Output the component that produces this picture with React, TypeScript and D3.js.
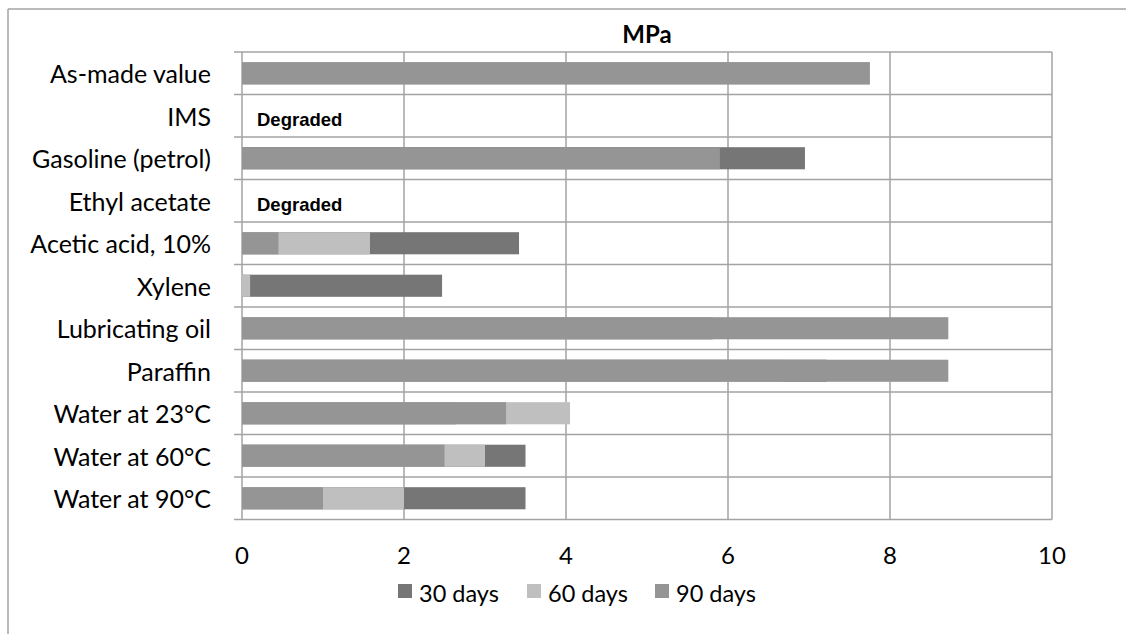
import React from "react";
import * as d3 from "d3";

const categories = [
  "As-made value",
  "IMS",
  "Gasoline (petrol)",
  "Ethyl acetate",
  "Acetic acid, 10%",
  "Xylene",
  "Lubricating oil",
  "Paraffin",
  "Water at 23°C",
  "Water at 60°C",
  "Water at 90°C",
];
const days30 = [7.75, 0, 6.95, 0, 3.42, 2.47, 5.81, 7.22, 2.64, 3.5, 3.5];
const days60 = [7.75, 0, 0, 0, 1.58, 0.1, 5.81, 6.68, 4.05, 3.0, 2.0];
const days90 = [7.75, 0, 5.9, 0, 0.45, 0, 8.72, 8.72, 3.26, 2.5, 1.0];
const notes = ["", "Degraded", "", "Degraded", "", "", "", "", "", "", ""];
const seriesNames = ["30 days", "60 days", "90 days"];
const xTicks = [0, 2, 4, 6, 8, 10];

const colors = ["#767676", "#bfbfbf", "#959595"];
const gridColor = "#a3a3a3";
const labelFont = "Lato, 'Open Sans', sans-serif";

export default function App() {
  const W = 1126;
  const H = 634;
  const left = 242;
  const right = 1052;
  const top = 52;
  const bottom = 519.5;

  const x = d3.scaleLinear().domain([0, 10]).range([left, right]);
  const y = d3
    .scaleBand<string>()
    .domain(categories)
    .range([top, bottom])
    .paddingInner(0.48)
    .paddingOuter(0.24);
  const band = (bottom - top) / categories.length;
  const series = [days30, days60, days90];

  const boundaries = d3.range(categories.length + 1).map((i) => top + i * band);

  return (
    <svg
      width={W}
      height={H}
      style={{ position: "absolute", left: 0, top: 0, background: "#fff" }}
    >
      <rect x={0} y={0} width={W} height={H} fill="#fff" />
      {/* outer chart frame (only top and left edges visible) */}
      <line x1={8} x2={W} y1={9} y2={9} stroke={gridColor} strokeWidth={1.5} />
      <line x1={8} x2={8} y1={9} y2={H} stroke={gridColor} strokeWidth={1.5} />
      {/* title */}
      <text
        x={647}
        y={43}
        textAnchor="middle"
        fontFamily={labelFont}
        fontWeight="bold"
        fontSize={24}
        fill="#000"
      >
        MPa
      </text>
      {/* horizontal gridlines + category ticks */}
      {boundaries.map((b, i) => (
        <line
          key={"h" + i}
          x1={left - 8}
          x2={right}
          y1={b}
          y2={b}
          stroke={gridColor}
          strokeWidth={1.5}
        />
      ))}
      {/* vertical gridlines */}
      {xTicks.map((t) => (
        <line
          key={"v" + t}
          x1={x(t)}
          x2={x(t)}
          y1={top}
          y2={bottom}
          stroke={gridColor}
          strokeWidth={1.5}
        />
      ))}
      {/* bars: 30, 60, 90 overlapping, 90 on top */}
      {series.map((vals, si) =>
        categories.map((c, ci) =>
          vals[ci] > 0 ? (
            <rect
              key={`b${si}-${ci}`}
              x={x(0)}
              y={y(c)!}
              width={x(vals[ci]) - x(0)}
              height={y.bandwidth()}
              fill={colors[si]}
            />
          ) : null
        )
      )}
      {/* notes */}
      {categories.map((c, ci) =>
        notes[ci] ? (
          <text
            key={"n" + ci}
            x={left + 15}
            y={y(c)! + y.bandwidth() / 2 + 10}
            fontFamily="'Liberation Sans', Arial, sans-serif"
            fontWeight="bold"
            fontSize={18.5}
            fill="#000"
          >
            {notes[ci]}
          </text>
        ) : null
      )}
      {/* category labels */}
      {categories.map((c) => (
        <text
          key={"c" + c}
          x={211}
          y={y(c)! + y.bandwidth() / 2 + 10}
          textAnchor="end"
          fontFamily={labelFont}
          fontSize={25}
          fill="#000"
        >
          {c}
        </text>
      ))}
      {/* x tick labels */}
      {xTicks.map((t) => (
        <text
          key={"t" + t}
          x={x(t)}
          y={564}
          textAnchor="middle"
          fontFamily={labelFont}
          fontSize={24}
          fill="#000"
        >
          {t}
        </text>
      ))}
      {/* legend */}
      {seriesNames.map((s, i) => {
        const lx = [398, 527, 655][i];
        return (
          <g key={"l" + s}>
            <rect x={lx} y={584} width={14} height={14} fill={colors[i]} />
            <text
              x={lx + 21}
              y={602}
              fontFamily={labelFont}
              fontSize={23.5}
              fill="#000"
            >
              {s}
            </text>
          </g>
        );
      })}
    </svg>
  );
}
